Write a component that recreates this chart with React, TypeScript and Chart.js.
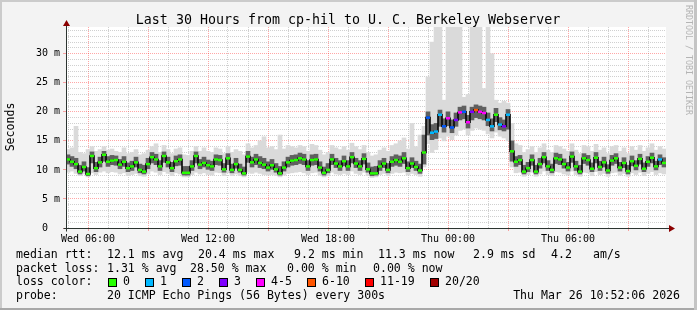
import { useEffect, useRef } from 'react';
import { Chart, registerables } from 'chart.js';

Chart.register(...registerables);

const W = 697;
const H = 310;
const START_HOUR = 4.9; // Wed 04:54 (hours since Wed 00:00)
const END_HOUR = 34.9; // Thu 10:54
const STEP_HOURS = 0.2; // 12 min per sample
const Y_MAX = 34.6;

// median rtt (ms)
const med = [
  11.8, 11.4, 11.0, 9.7, 10.5, 9.3, 12.4, 10.3, 11.3, 12.6,
  11.4, 11.6, 11.7, 10.9, 11.4, 10.3, 10.6, 11.3, 10.0, 9.7,
  11.0, 12.2, 11.8, 10.6, 12.4, 11.3, 10.3, 11.5, 11.8, 9.5,
  9.5, 10.6, 12.4, 10.9, 11.2, 10.8, 10.6, 11.8, 11.7, 10.1,
  12.0, 10.0, 11.0, 10.0, 9.4, 12.3, 11.3, 11.8, 11.2, 10.9,
  10.4, 10.8, 10.1, 9.4, 10.4, 11.3, 11.6, 11.7, 12.0, 11.8,
  10.6, 11.7, 11.8, 10.4, 9.5, 10.0, 11.8, 11.1, 10.6, 11.5,
  10.6, 12.2, 11.1, 10.6, 11.9, 10.1, 9.4, 9.4, 10.6, 11.1,
  10.0, 11.4, 11.7, 11.4, 12.0, 10.3, 11.1, 10.5, 9.9, 13.0,
  19.0, 16.4, 16.6, 19.5, 17.5, 18.9, 17.3, 18.6, 19.9, 20.0,
  18.2, 20.0, 20.3, 20.0, 19.8, 18.6, 17.5, 19.5, 17.8, 17.5,
  19.5, 13.2, 11.4, 11.7, 9.7, 10.3, 11.7, 9.7, 11.0, 12.2,
  10.6, 10.0, 12.0, 11.8, 11.0, 10.4, 12.3, 10.6, 9.7, 12.0,
  11.7, 10.2, 12.1, 10.5, 11.3, 9.9, 11.6, 12.0, 10.4, 11.2,
  9.8, 11.5, 10.7, 11.9, 10.2, 11.4, 12.1, 10.6, 11.8, 11.2,
];

// lost pings out of 20
const loss = [
  0, 0, 0, 0, 0, 0, 0, 0, 0, 0,
  0, 0, 0, 0, 0, 0, 0, 0, 0, 0,
  0, 0, 0, 0, 0, 0, 0, 0, 0, 0,
  0, 0, 0, 0, 0, 0, 0, 0, 0, 0,
  0, 0, 0, 0, 0, 0, 0, 0, 0, 0,
  0, 0, 0, 0, 0, 0, 0, 0, 0, 0,
  0, 0, 0, 0, 0, 0, 0, 0, 0, 0,
  0, 0, 0, 0, 0, 0, 0, 0, 0, 0,
  0, 0, 0, 0, 0, 0, 0, 0, 0, 0,
  2, 1, 1, 1, 2, 4, 2, 3, 4, 2,
  4, 3, 7, 4, 4, 1, 1, 0, 1, 3,
  1, 0, 0, 0, 0, 0, 0, 0, 0, 0,
  0, 0, 0, 0, 0, 0, 0, 0, 0, 0,
  0, 0, 0, 0, 0, 0, 0, 0, 0, 0,
  0, 0, 0, 0, 0, 0, 0, 0, 1, 0,
];

// outer smoke (min / max ping)
const lo = [
  9.6, 9.8, 9.4, 9.0, 9.3, 8.8, 9.5, 9.2, 9.6, 9.8,
  9.5, 9.7, 9.6, 9.3, 9.5, 9.0, 9.2, 9.4, 9.0, 8.9,
  9.3, 9.8, 9.6, 9.2, 9.7, 9.4, 9.0, 9.5, 9.3, 8.8,
  8.8, 9.2, 9.6, 9.3, 9.5, 9.2, 9.1, 9.6, 9.5, 9.0,
  9.5, 9.0, 9.3, 9.0, 8.8, 9.6, 9.4, 9.6, 9.4, 9.2,
  9.1, 9.2, 9.0, 8.8, 9.1, 9.4, 9.5, 9.6, 9.7, 9.5,
  9.2, 9.5, 9.6, 9.1, 8.8, 9.0, 9.6, 9.3, 9.2, 9.4,
  9.2, 9.8, 9.4, 9.2, 9.6, 9.0, 8.7, 8.8, 9.2, 9.4,
  9.0, 9.4, 9.6, 9.5, 9.6, 9.1, 9.4, 9.2, 8.9, 10.5,
  14.5, 13.0, 13.5, 15.5, 15.0, 15.8, 15.2, 16.0, 16.8, 17.0,
  16.0, 16.8, 17.2, 17.0, 16.8, 16.2, 15.5, 16.5, 15.8, 15.5,
  15.0, 10.5, 9.5, 9.6, 8.9, 9.2, 9.6, 8.9, 9.3, 9.8,
  9.2, 9.0, 9.7, 9.6, 9.3, 9.1, 9.8, 9.2, 8.9, 9.6,
  9.5, 9.0, 9.7, 9.2, 9.4, 8.9, 9.5, 9.6, 9.1, 9.4,
  8.9, 9.5, 9.2, 9.6, 9.0, 9.4, 9.7, 9.2, 9.5, 9.3,
];
const hi = [
  13.5, 13.8, 17.5, 13.0, 12.8, 13.5, 14.0, 13.2, 13.5, 14.0,
  13.4, 13.6, 13.2, 13.0, 13.8, 12.8, 13.0, 13.5, 12.6, 12.8,
  13.4, 14.0, 14.5, 13.0, 14.2, 13.5, 12.8, 13.6, 13.8, 12.6,
  12.5, 13.2, 14.0, 13.2, 13.8, 13.2, 13.0, 13.8, 13.6, 12.8,
  14.0, 13.0, 13.5, 13.2, 12.6, 14.5, 13.8, 14.2, 15.0, 15.7,
  13.8, 14.0, 13.5, 16.0, 13.6, 14.2, 14.0, 13.8, 14.2, 14.0,
  13.2, 14.4, 14.2, 13.4, 12.6, 13.0, 14.2, 13.8, 13.5, 14.0,
  13.4, 14.6, 14.0, 13.5, 14.2, 13.0, 12.4, 12.6, 13.4, 13.8,
  13.2, 14.2, 14.5, 15.0, 15.5, 13.6, 18.0, 14.0, 16.0, 17.5,
  26.0, 32.0, 35.0, 35.0, 22.0, 35.0, 35.0, 35.0, 35.0, 22.5,
  23.0, 35.0, 35.0, 35.0, 24.0, 35.0, 30.0, 22.0, 21.5, 21.8,
  21.5, 18.0, 14.5, 14.2, 13.0, 13.5, 14.0, 13.0, 13.8, 14.5,
  13.4, 13.0, 14.2, 14.0, 13.6, 13.2, 14.5, 13.4, 12.8, 14.2,
  14.0, 13.2, 14.4, 13.4, 13.8, 12.8, 14.0, 14.2, 13.2, 13.8,
  12.8, 14.0, 13.4, 14.2, 13.2, 13.8, 14.5, 13.4, 14.0, 13.6,
];

// dense smoke around the median
const mlo = [
  11.0, 10.6, 10.2, 9.3, 9.8, 9.0, 11.2, 9.7, 10.5, 11.5,
  10.6, 10.9, 10.8, 10.2, 10.6, 9.7, 9.9, 10.5, 9.5, 9.3,
  10.2, 11.2, 10.9, 9.9, 11.3, 10.5, 9.7, 10.7, 10.8, 9.1,
  9.1, 9.9, 11.2, 10.2, 10.5, 10.1, 9.9, 10.9, 10.8, 9.6,
  10.9, 9.5, 10.3, 9.6, 9.1, 11.3, 10.5, 10.9, 10.4, 10.2,
  9.8, 10.1, 9.6, 9.1, 9.8, 10.5, 10.8, 10.9, 11.1, 10.9,
  9.9, 10.8, 10.9, 9.8, 9.1, 9.5, 10.9, 10.4, 9.9, 10.7,
  9.9, 11.2, 10.4, 9.9, 11.0, 9.6, 9.0, 9.1, 9.9, 10.4,
  9.5, 10.6, 10.8, 10.6, 11.1, 9.7, 10.4, 9.9, 9.4, 11.0,
  16.0, 15.2, 15.4, 17.5, 16.5, 17.6, 16.4, 17.5, 18.6, 18.8,
  17.2, 18.6, 19.0, 18.8, 18.6, 17.6, 16.7, 18.3, 16.9, 16.7,
  17.0, 11.5, 10.6, 10.9, 9.3, 9.7, 10.8, 9.3, 10.3, 11.2,
  9.9, 9.5, 11.1, 10.9, 10.3, 9.8, 11.3, 9.9, 9.3, 11.1,
  10.8, 9.7, 11.2, 9.9, 10.5, 9.4, 10.8, 11.1, 9.8, 10.4,
  9.3, 10.7, 10.0, 11.0, 9.7, 10.6, 11.2, 10.0, 10.9, 10.5,
];
const mhi = [
  12.6, 12.3, 12.0, 10.8, 11.4, 10.4, 13.1, 11.3, 12.2, 13.2,
  12.3, 12.5, 12.4, 11.8, 12.3, 11.2, 11.5, 12.2, 11.0, 10.8,
  12.0, 13.0, 12.7, 11.6, 13.1, 12.2, 11.3, 12.4, 12.6, 10.6,
  10.6, 11.6, 13.1, 11.8, 12.2, 11.7, 11.5, 12.6, 12.5, 11.1,
  12.8, 11.0, 12.0, 11.0, 10.5, 13.2, 12.2, 12.7, 12.3, 12.0,
  11.4, 11.8, 11.1, 10.6, 11.4, 12.2, 12.5, 12.6, 12.9, 12.7,
  11.6, 12.6, 12.7, 11.4, 10.5, 11.1, 12.7, 12.0, 11.6, 12.4,
  11.6, 13.0, 12.0, 11.6, 12.8, 11.2, 10.5, 10.6, 11.6, 12.0,
  11.1, 12.3, 12.6, 12.4, 13.0, 11.4, 12.1, 11.5, 11.0, 16.0,
  20.0, 17.8, 18.0, 20.3, 18.8, 20.0, 18.6, 19.8, 20.8, 21.0,
  19.4, 20.8, 21.2, 21.0, 20.8, 19.8, 18.8, 20.6, 19.0, 18.6,
  20.4, 15.0, 12.3, 12.5, 10.8, 11.3, 12.6, 10.8, 12.0, 13.0,
  11.6, 11.0, 12.9, 12.7, 11.9, 11.3, 13.1, 11.5, 10.8, 12.8,
  12.5, 11.2, 13.0, 11.5, 12.2, 10.9, 12.5, 12.8, 11.3, 12.1,
  10.8, 12.4, 11.6, 12.7, 11.2, 12.3, 12.9, 11.5, 12.6, 12.1,
];

const hourTicks = [5, 6, 7, 8, 9, 10, 11, 12, 13, 14, 15, 16, 17, 18, 19, 20, 21, 22, 23, 24, 25, 26, 27, 28, 29, 30, 31, 32, 33, 34];
const xLabelHours = [6, 12, 18, 24, 30];
const xLabelTexts = ['Wed 06:00', 'Wed 12:00', 'Wed 18:00', 'Thu 00:00', 'Thu 06:00'];
const yTicks = [0, 1, 2, 3, 4, 5, 6, 7, 8, 9, 10, 11, 12, 13, 14, 15, 16, 17, 18, 19, 20, 21, 22, 23, 24, 25, 26, 27, 28, 29, 30, 31, 32, 33, 34];
const yLabelValues = [0, 5, 10, 15, 20, 25, 30];
const yLabelTexts = ['0  ', '5 m', '10 m', '15 m', '20 m', '25 m', '30 m'];

const titleText = 'Last 30 Hours from cp-hil to U. C. Berkeley Webserver';
const yAxisTitle = 'Seconds';
const watermark = 'RRDTOOL / TOBI OETIKER';
const rttRow = ['median rtt:', '12.1 ms avg', '20.4 ms max', '9.2 ms min', '11.3 ms now', '2.9 ms sd', '4.2', 'am/s'];
const lossRow = ['packet loss:', '1.31 % avg', '28.50 % max', '0.00 % min', '0.00 % now'];
const lossLegendTitle = 'loss color:';
const lossLegendLabels = ['0', '1', '2', '3', '4-5', '6-10', '11-19', '20/20'];
const lossBucketMax = [0, 1, 2, 3, 5, 10, 19, 20];
const lossLegendColors = ['#26ff00', '#00b8ff', '#0059ff', '#7e00ff', '#ff00ff', '#ff5500', '#ff0000', '#a10000'];
const probeRow = ['probe:', '20 ICMP Echo Pings (56 Bytes) every 300s'];
const stampText = 'Thu Mar 26 10:52:06 2026';

const MONO = '"DejaVu Sans Mono", monospace';

function lossColor(n: number): string {
  for (let k = 0; k < lossBucketMax.length; k++) {
    if (n <= lossBucketMax[k]) return lossLegendColors[k];
  }
  return lossLegendColors[lossLegendColors.length - 1];
}

const decor = {
  id: 'rrdDecor',
  beforeDraw(chart: any) {
    const { ctx, chartArea: a } = chart;
    ctx.save();
    ctx.fillStyle = '#f3f3f3';
    ctx.fillRect(0, 0, W, H);
    ctx.fillStyle = '#cbcbcb';
    ctx.fillRect(0, 0, W, 2);
    ctx.fillRect(0, 0, 2, H);
    ctx.fillStyle = '#a8a8a8';
    ctx.fillRect(0, H - 2, W, 2);
    ctx.fillStyle = '#c4c4c4';
    ctx.fillRect(W - 3, 0, 3, H);
    ctx.fillStyle = '#ffffff';
    ctx.fillRect(a.left, a.top, a.right - a.left, a.bottom - a.top);
    ctx.restore();
  },
  afterDraw(chart: any) {
    const { ctx, chartArea: a } = chart;
    ctx.save();
    // axes
    const ax = Math.round(a.left) + 0.5;
    const ay = Math.round(a.bottom) + 0.5;
    ctx.strokeStyle = '#2c3430';
    ctx.lineWidth = 1;
    ctx.beginPath();
    ctx.moveTo(ax, ay + 3);
    ctx.lineTo(ax, a.top - 2);
    ctx.moveTo(ax - 3, ay);
    ctx.lineTo(a.right + 3, ay);
    ctx.stroke();
    ctx.fillStyle = '#8b0000';
    ctx.beginPath();
    ctx.moveTo(ax - 3.5, a.top - 1);
    ctx.lineTo(ax + 3.5, a.top - 1);
    ctx.lineTo(ax, a.top - 7);
    ctx.closePath();
    ctx.fill();
    ctx.beginPath();
    ctx.moveTo(a.right + 3, ay - 3.5);
    ctx.lineTo(a.right + 3, ay + 3.5);
    ctx.lineTo(a.right + 9, ay);
    ctx.closePath();
    ctx.fill();

    // title
    ctx.fillStyle = '#000';
    ctx.font = `13.3px ${MONO}`;
    ctx.textAlign = 'center';
    ctx.textBaseline = 'alphabetic';
    ctx.fillText(titleText, 348, 24);

    // y axis title
    ctx.save();
    ctx.translate(11, 127);
    ctx.rotate(-Math.PI / 2);
    ctx.font = `11.55px ${MONO}`;
    ctx.textAlign = 'center';
    ctx.textBaseline = 'middle';
    ctx.fillText(yAxisTitle, 0, 0);
    ctx.restore();

    // watermark
    ctx.save();
    ctx.translate(688, 5);
    ctx.rotate(Math.PI / 2);
    ctx.font = `8.3px ${MONO}`;
    ctx.fillStyle = '#b4b4b4';
    ctx.textAlign = 'left';
    ctx.textBaseline = 'middle';
    ctx.fillText(watermark, 0, 0);
    ctx.restore();

    // legend
    ctx.font = `11.55px ${MONO}`;
    ctx.fillStyle = '#000';
    ctx.textAlign = 'left';
    ctx.textBaseline = 'alphabetic';
    const rttX = [16, 107, 198, 294, 378, 473, 551, 593];
    rttRow.forEach((t, i) => ctx.fillText(t, rttX[i], 258));
    const lossX = [16, 107, 190, 287, 373];
    lossRow.forEach((t, i) => ctx.fillText(t, lossX[i], 271.7));
    ctx.fillText(lossLegendTitle, 16, 285.4);
    const boxX = [108, 145, 182, 219, 256, 307, 365, 430];
    lossLegendLabels.forEach((t, i) => {
      ctx.fillStyle = lossLegendColors[i];
      ctx.fillRect(boxX[i], 278, 9, 9);
      ctx.strokeStyle = '#000';
      ctx.lineWidth = 1;
      ctx.strokeRect(boxX[i] + 0.5, 278.5, 8, 8);
      ctx.fillStyle = '#000';
      ctx.fillText(t, boxX[i] + 15, 285.4);
    });
    ctx.fillText(probeRow[0], 16, 299);
    ctx.fillText(probeRow[1], 107, 299);
    ctx.textAlign = 'right';
    ctx.fillText(stampText, 680, 299);
    ctx.restore();
  },
};

export default function App() {
  const ref = useRef<HTMLCanvasElement | null>(null);

  useEffect(() => {
    const canvas = ref.current;
    if (!canvas) return;
    const times = med.map((_, i) => START_HOUR + STEP_HOURS * (i + 0.5));
    const colors = loss.map((n) => lossColor(n));
    const majorRed = 'rgba(255, 60, 60, 0.45)';
    const minorGrey = 'rgba(150, 150, 150, 0.45)';

    const chart = new Chart(canvas, {
      type: 'bar',
      data: {
        datasets: [
          {
            type: 'line',
            label: 'median',
            data: times.map((t, i) => ({ x: t, y: med[i] })),
            showLine: false,
            pointStyle: 'line',
            pointRadius: 2,
            pointHoverRadius: 2,
            pointBorderWidth: 2.5,
            pointBorderColor: colors,
            pointBackgroundColor: colors,
            order: 0,
          } as any,
          {
            type: 'line',
            label: 'median line',
            data: times.map((t, i) => ({ x: t, y: med[i] })),
            stepped: 'middle',
            borderColor: '#000000',
            borderWidth: 1.5,
            pointRadius: 0,
            fill: false,
            order: 1,
          } as any,
          {
            type: 'bar',
            label: 'dense',
            data: times.map((t, i) => ({ x: t, y: [mlo[i], mhi[i]] })),
            backgroundColor: '#606060',
            borderWidth: 0,
            grouped: false,
            barPercentage: 1,
            categoryPercentage: 1,
            order: 2,
          } as any,
          {
            type: 'bar',
            label: 'smoke',
            data: times.map((t, i) => ({ x: t, y: [lo[i], hi[i]] })),
            backgroundColor: '#dadada',
            borderWidth: 0,
            grouped: false,
            barPercentage: 1,
            categoryPercentage: 1,
            order: 3,
          } as any,
        ],
      },
      options: {
        animation: false,
        responsive: false,
        devicePixelRatio: 1,
        layout: { padding: { left: 0, top: 27, right: 31, bottom: 62 } },
        plugins: {
          legend: { display: false },
          tooltip: { enabled: false },
          title: { display: false },
        },
        scales: {
          x: {
            type: 'linear',
            min: START_HOUR,
            max: END_HOUR,
            offset: false,
            afterFit: (s: any) => {
              s.height = 20;
            },
            afterBuildTicks: (s: any) => {
              s.ticks = hourTicks.map((v) => ({ value: v }));
            },
            ticks: {
              autoSkip: false,
              maxRotation: 0,
              minRotation: 0,
              padding: 2,
              color: '#000',
              font: { family: MONO, size: 10 },
              callback: (v: any) => {
                const k = xLabelHours.indexOf(Number(v));
                return k >= 0 ? xLabelTexts[k] : '';
              },
            },
            grid: {
              offset: false,
              drawTicks: true,
              tickLength: 3,
              color: (c: any) => (c.tick && c.tick.value % 3 === 0 ? majorRed : minorGrey),
              tickColor: (c: any) => (c.tick && c.tick.value % 3 === 0 ? majorRed : 'rgba(0,0,0,0)'),
              lineWidth: 1,
            },
            border: { display: false, dash: [1, 1] },
          },
          y: {
            type: 'linear',
            min: 0,
            max: Y_MAX,
            afterFit: (s: any) => {
              s.width = 66;
            },
            afterBuildTicks: (s: any) => {
              s.ticks = yTicks.map((v) => ({ value: v }));
            },
            ticks: {
              autoSkip: false,
              padding: 3,
              color: '#000',
              font: { family: MONO, size: 10 },
              callback: (v: any) => {
                const k = yLabelValues.indexOf(Number(v));
                return k >= 0 ? yLabelTexts[k] : '';
              },
            },
            grid: {
              drawTicks: true,
              tickLength: 3,
              color: (c: any) => (c.tick && c.tick.value % 5 === 0 ? majorRed : minorGrey),
              tickColor: (c: any) => (c.tick && c.tick.value % 5 === 0 ? majorRed : 'rgba(0,0,0,0)'),
              lineWidth: 1,
            },
            border: { display: false, dash: [1, 1] },
          },
        },
      } as any,
      plugins: [decor],
    });

    return () => {
      chart.destroy();
    };
  }, []);

  return (
    <div style={{ position: 'fixed', left: 0, top: 0, width: W, height: H }}>
      <canvas ref={ref} width={W} height={H} style={{ display: 'block', width: W, height: H }} />
    </div>
  );
}
